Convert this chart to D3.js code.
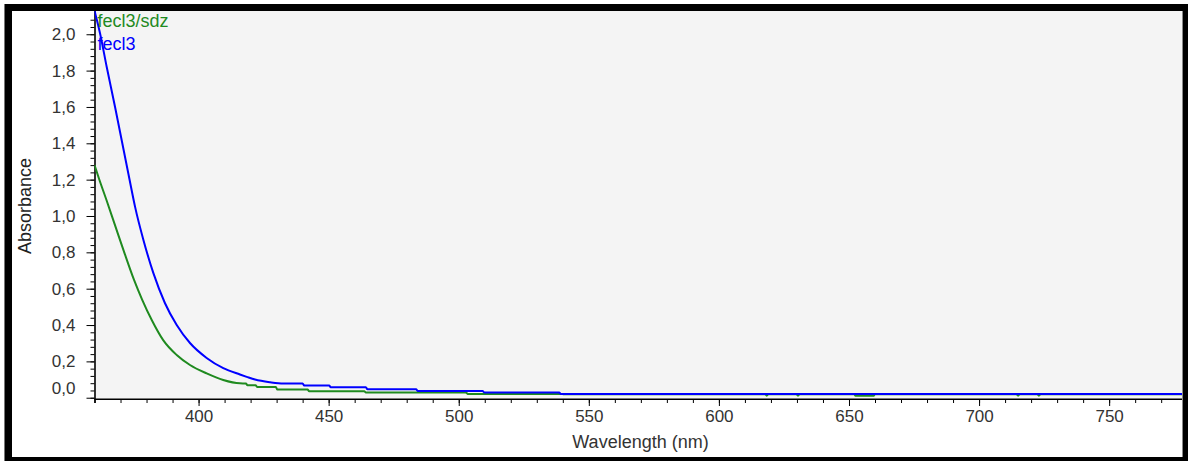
<!DOCTYPE html>
<html>
<head>
<meta charset="utf-8">
<script src="https://cdn.jsdelivr.net/npm/d3@7"></script>
<style>
  html, body { margin: 0; padding: 0; background: #fff; }
  svg { display: block; font-family: "Liberation Sans", Arial, sans-serif; }
</style>
</head>
<body>
<svg id="chart" width="1188" height="461"></svg>
<script>
// ---- data -------------------------------------------------------------
const seriesNames  = ["fecl3/sdz", "fecl3"];
const seriesColors = ["#1f8a1f", "#0000ff"];

// fecl3/sdz spectrum (wavelength in nm, absorbance)
const sdzWavelength = [
  360.0, 361.9, 364.6, 368.1, 371.5, 375.2, 378.3, 382.1, 386.4, 391.6,
  396.7, 403.1, 409.5, 415.9, 418.2, 418.8, 421.9, 422.5, 429.7, 430.3,
  441.9, 442.5, 463.7, 464.3, 502.8, 503.4, 539.7, 540.3, 617.8, 618.4,
  619.0, 629.8, 630.4, 631.0, 652.0, 652.5, 659.5, 660.0, 714.4, 715.0,
  715.6, 722.4, 723.0, 723.6, 778.0
];
const sdzAbsorbance = [
  1.280, 1.198, 1.088, 0.940, 0.797, 0.648, 0.540, 0.425, 0.317, 0.235,
  0.180, 0.134, 0.098, 0.079, 0.078, 0.069, 0.069, 0.059, 0.059, 0.045,
  0.045, 0.036, 0.036, 0.029, 0.029, 0.021, 0.021, 0.019, 0.019, 0.011,
  0.019, 0.019, 0.011, 0.019, 0.019, 0.011, 0.011, 0.019, 0.019, 0.011,
  0.019, 0.019, 0.011, 0.019, 0.019
];

// fecl3 spectrum (wavelength in nm, absorbance)
const fecl3Wavelength = [
  360.0, 362.1, 364.7, 367.9, 371.2, 373.5, 375.6, 378.8, 382.6, 387.1,
  391.6, 396.7, 403.1, 409.5, 415.9, 418.5, 421.7, 427.5, 432.6, 440.0,
  440.6, 450.2, 450.8, 464.3, 464.9, 483.6, 484.2, 509.2, 509.8, 538.6,
  539.2, 778.0
];
const fecl3Absorbance = [
  2.130, 2.007, 1.820, 1.600, 1.363, 1.198, 1.050, 0.868, 0.687, 0.520,
  0.400, 0.301, 0.219, 0.163, 0.128, 0.115, 0.100, 0.085, 0.078, 0.078,
  0.067, 0.067, 0.058, 0.058, 0.047, 0.047, 0.037, 0.037, 0.029, 0.029,
  0.021, 0.020
];

// axis ticks
const xTickValues  = [400, 450, 500, 550, 600, 650, 700, 750];
const xMinorTicks  = d3.range(360, 780, 10);
const yTickValues  = [0, 0.2, 0.4, 0.6, 0.8, 1.0, 1.2, 1.4, 1.6, 1.8, 2.0];
const yMinorTicks  = d3.range(0, 53).map(i => i * 0.04);
const xTitle = "Wavelength (nm)";
const yTitle = "Absorbance";

// ---- layout -----------------------------------------------------------
const plot = { left: 94.5, right: 1182, top: 11, bottom: 399 };
const svg = d3.select("#chart");

// window frame
svg.append("rect").attr("x", 4).attr("y", 4).attr("width", 1184).attr("height", 457).attr("fill", "#000");
svg.append("line").attr("x1", 4.5).attr("x2", 4.5).attr("y1", 4).attr("y2", 461).attr("stroke", "#777");
svg.append("rect").attr("x", 12).attr("y", 11).attr("width", 1171).attr("height", 446).attr("fill", "#fff");

// plot background
svg.append("rect")
  .attr("x", plot.left).attr("y", plot.top)
  .attr("width", plot.right - plot.left).attr("height", plot.bottom - plot.top)
  .attr("fill", "#f4f4f4");
svg.append("line").attr("x1", 1182.5).attr("x2", 1182.5).attr("y1", 11).attr("y2", 457)
  .attr("stroke", "#8a8a8a");

// ---- scales -----------------------------------------------------------
const x = d3.scaleLinear().domain([360, 778]).range([plot.left, plot.right]);
const y = d3.scaleLinear().domain([-0.007, 2.128]).range([plot.bottom, plot.top]);

const commaLocale = d3.formatLocale({ decimal: ",", thousands: ".", grouping: [3], currency: ["", ""] });
const yFmt = commaLocale.format(".1f");

// ---- axes -------------------------------------------------------------
const tickFont = 17;

// y minor ticks
svg.append("g")
  .attr("transform", `translate(${plot.left},0)`)
  .call(d3.axisLeft(y).tickValues(yMinorTicks).tickSize(4).tickFormat(""))
  .call(g => g.select(".domain").remove())
  .call(g => g.selectAll("line").attr("stroke", "#000"));

// y major ticks + labels
const yAxis = svg.append("g")
  .attr("transform", `translate(${plot.left},0)`)
  .call(d3.axisLeft(y).tickValues(yTickValues).tickSize(8).tickPadding(11).tickFormat(yFmt))
  .call(g => g.select(".domain").remove())
  .call(g => g.selectAll("line").attr("stroke", "#000"))
  .call(g => g.selectAll("text")
    .attr("font-size", tickFont)
    .attr("font-family", "Liberation Sans, Arial, sans-serif")
    .attr("fill", "#333"));
// lowest label sits a little above its tick, clear of the x axis
yAxis.selectAll(".tick").filter(d => d === 0).select("text").attr("dy", "-0.22em");

// x minor ticks
svg.append("g")
  .attr("transform", `translate(0,${plot.bottom})`)
  .call(d3.axisBottom(x).tickValues(xMinorTicks).tickSize(4).tickFormat(""))
  .call(g => g.select(".domain").remove())
  .call(g => g.selectAll("line").attr("stroke", "#000"));

// x major ticks + labels
svg.append("g")
  .attr("transform", `translate(0,${plot.bottom})`)
  .call(d3.axisBottom(x).tickValues(xTickValues).tickSize(7).tickPadding(4).tickFormat(d3.format("d")))
  .call(g => g.select(".domain").remove())
  .call(g => g.selectAll("line").attr("stroke", "#000"))
  .call(g => g.selectAll("text")
    .attr("font-size", tickFont)
    .attr("font-family", "Liberation Sans, Arial, sans-serif")
    .attr("fill", "#333"));

// axis lines
svg.append("line")
  .attr("x1", plot.left + 0.5).attr("x2", plot.left + 0.5)
  .attr("y1", plot.top).attr("y2", plot.bottom + 4)
  .attr("stroke", "#000").attr("stroke-width", 1.6);
svg.append("line")
  .attr("x1", plot.left).attr("x2", plot.right)
  .attr("y1", plot.bottom + 0.3).attr("y2", plot.bottom + 0.3)
  .attr("stroke", "#000").attr("stroke-width", 1.4);

// axis titles
svg.append("text")
  .attr("transform", "translate(31,206) rotate(-90)")
  .attr("text-anchor", "middle")
  .attr("font-size", 18)
  .attr("fill", "#222")
  .text(yTitle);
svg.append("text")
  .attr("x", 640.5).attr("y", 448)
  .attr("text-anchor", "middle")
  .attr("font-size", 18)
  .attr("fill", "#333")
  .text(xTitle);

// ---- spectra ----------------------------------------------------------
svg.append("defs").append("clipPath").attr("id", "plot-clip")
  .append("rect")
  .attr("x", plot.left).attr("y", plot.top)
  .attr("width", plot.right - plot.left).attr("height", plot.bottom - plot.top);

const series = [
  { name: seriesNames[0], color: seriesColors[0],
    points: sdzWavelength.map((w, i) => [w, sdzAbsorbance[i]]) },
  { name: seriesNames[1], color: seriesColors[1],
    points: fecl3Wavelength.map((w, i) => [w, fecl3Absorbance[i]]) }
];

const line = d3.line()
  .x(d => x(d[0]))
  .y(d => y(d[1]))
  .curve(d3.curveMonotoneX);

svg.append("g").attr("clip-path", "url(#plot-clip)")
  .selectAll("path")
  .data(series)
  .join("path")
  .attr("d", d => line(d.points))
  .attr("fill", "none")
  .attr("stroke", d => d.color)
  .attr("stroke-width", 2)
  .attr("stroke-linejoin", "round");

// series labels
const labelPos = [[97.5, 27], [97.5, 50]];
svg.append("g")
  .selectAll("text")
  .data(series)
  .join("text")
  .attr("x", (d, i) => labelPos[i][0])
  .attr("y", (d, i) => labelPos[i][1])
  .attr("font-size", 18)
  .attr("fill", d => d.color)
  .text(d => d.name);
</script>
</body>
</html>
